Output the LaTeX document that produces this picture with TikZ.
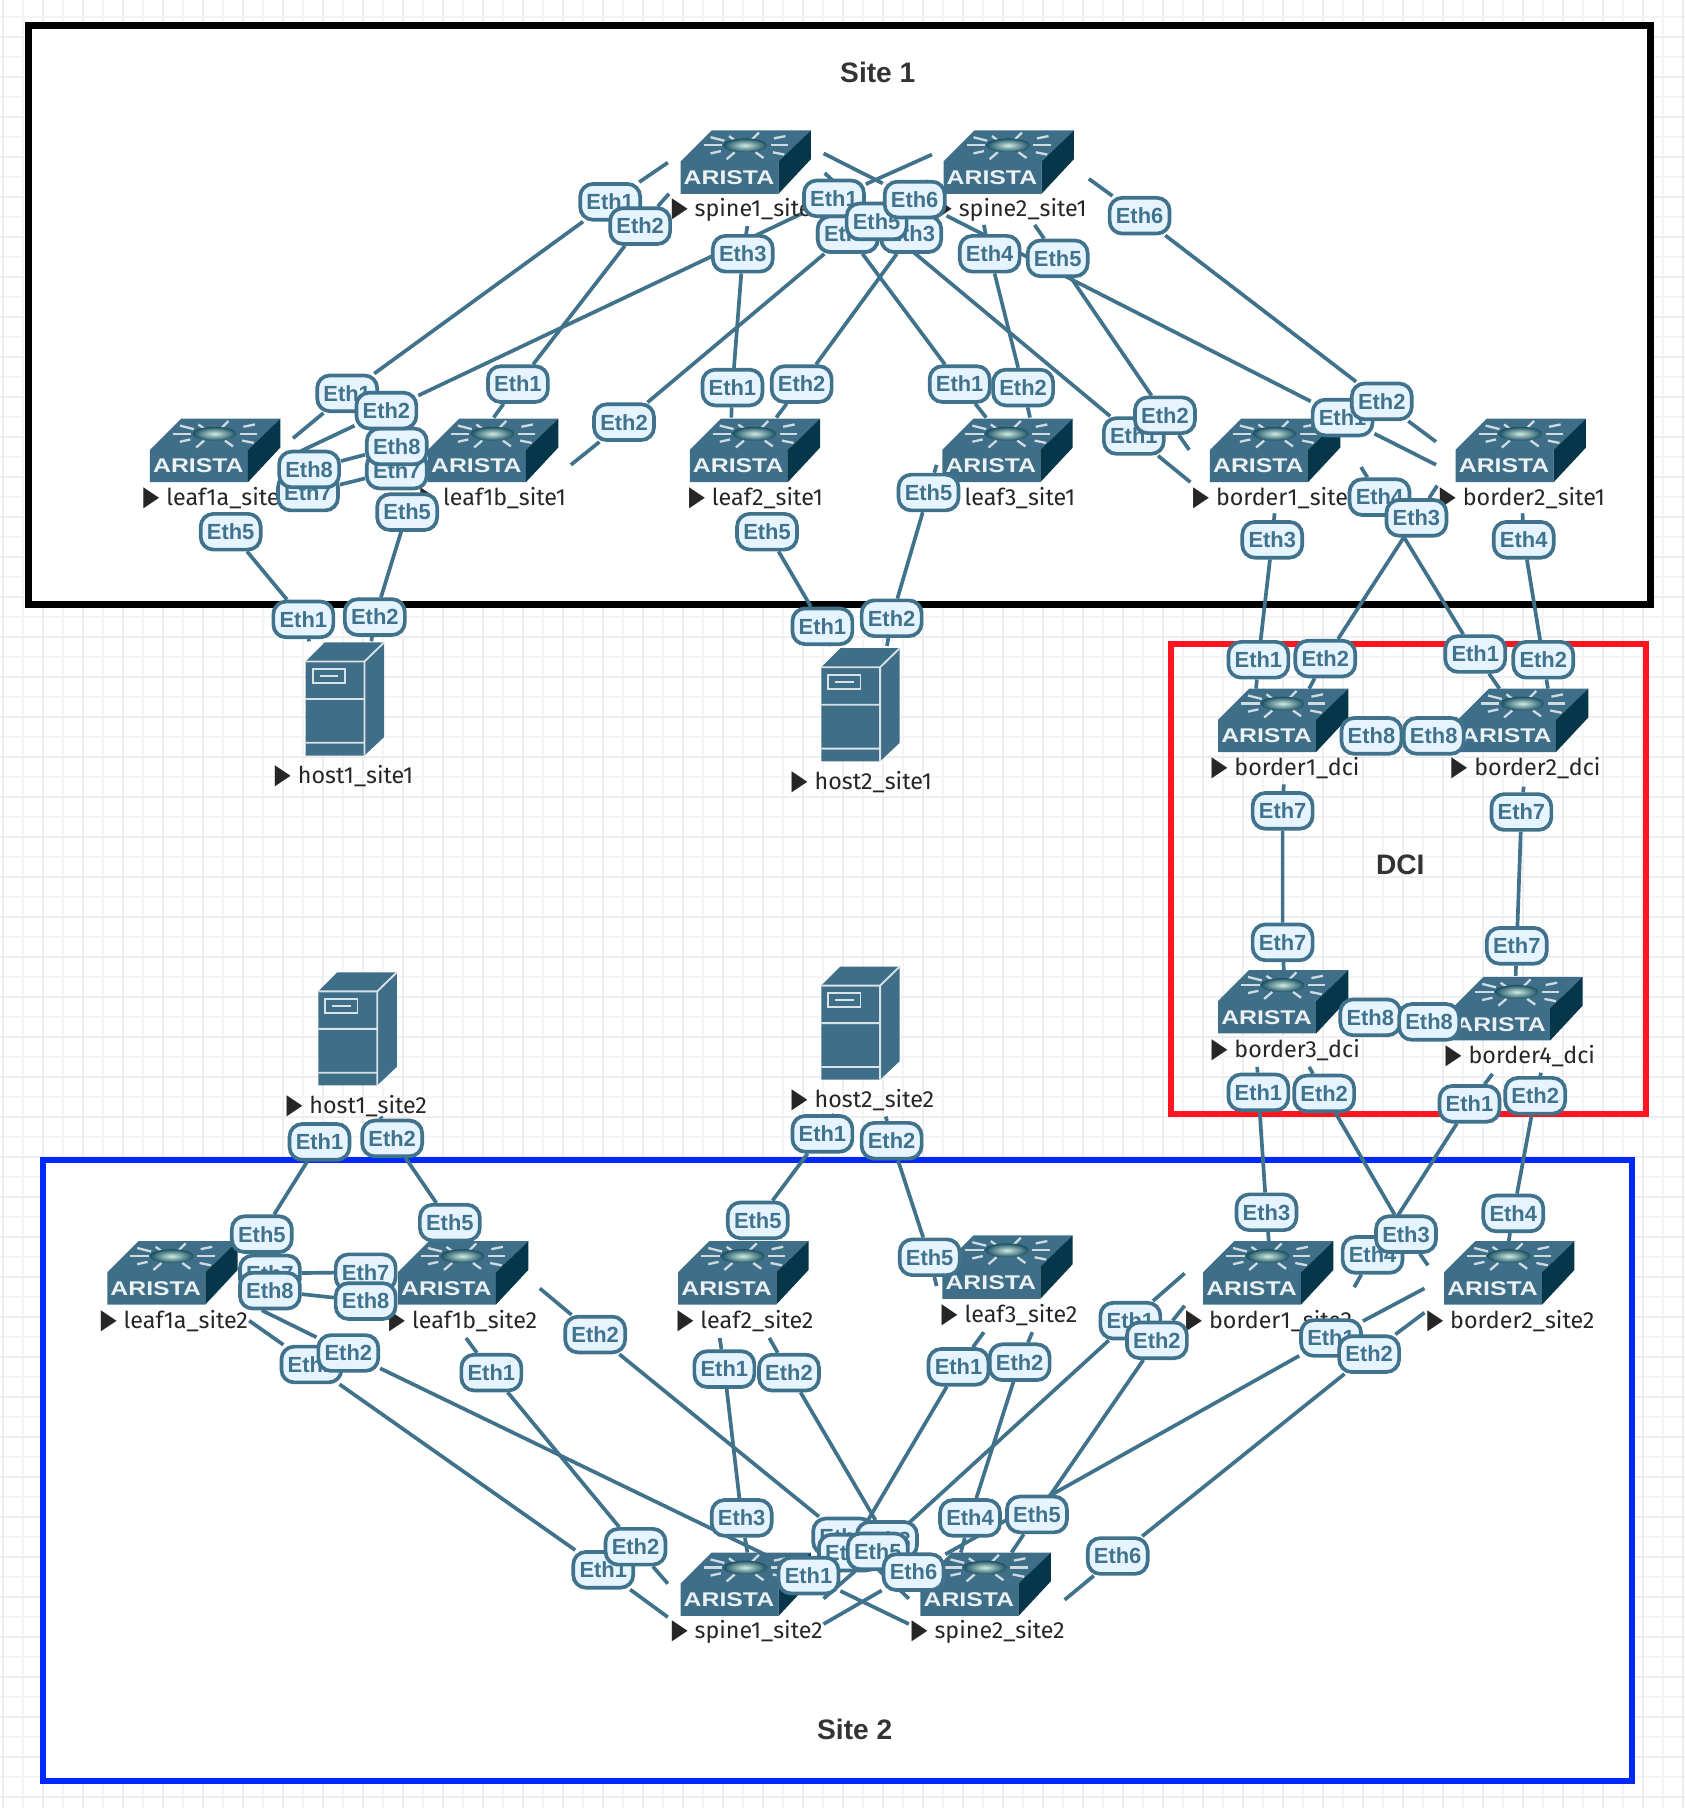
\documentclass[tikz,border=0pt]{standalone}
\usepackage{fontspec}
\usepackage{graphicx}
\setmainfont{Fira Sans}
\setsansfont{Liberation Sans}
\newfontfamily\markfont{DejaVu Sans}
\newcommand{\devmark}{{\markfont\fontsize{12}{12}\selectfont\scalebox{0.75}[1]{▶}}\hspace{3pt}}
\definecolor{linkblue}{HTML}{41728C}
\definecolor{labelfill}{HTML}{E6F4FF}
\definecolor{iconblue}{HTML}{3F6F88}
\definecolor{iconside}{HTML}{06364A}
\definecolor{ballcore}{HTML}{D0ECE2}
\definecolor{ballrim}{HTML}{1A5062}
\definecolor{gridminor}{HTML}{F5F5F7}
\definecolor{gridmajor}{HTML}{EEEEF0}
\definecolor{framered}{HTML}{FF1420}
\definecolor{frameblue}{HTML}{0028FF}
\pgfdeclarelayer{ground}
\pgfdeclarelayer{devices}
\pgfdeclarelayer{labels}
\pgfsetlayers{ground,main,devices,labels}
\tikzset{
	aristaswitch/.pic={
		\fill[iconblue] (0,27) -- (27,0) -- (113,0) -- (85,27) -- (85,55) -- (0,55) -- cycle;
		\fill[iconside] (85,27) -- (113,0) -- (113,25) -- (85,55) -- cycle;
		\foreach \xa/\ya/\xb/\yb in {20/13/36/13,26/6/38/9,26/20/35/18,78/13/93/13,81/7/91/5,80/19/90/21,42/5/49/10,68/2/61/9,47/19/40/25,65/19/72/24}
			\draw[white!75!iconblue,line width=1pt] (\xa,\ya) -- (\xb,\yb);
		\shade[inner color=ballcore,outer color=ballrim] (56,13) ellipse (19 and 6);
		\node[text=white!90!iconblue,font=\sffamily\bfseries\fontsize{8.6}{8.6}\selectfont,inner sep=0pt] (-brand) at (42,41) {\scalebox{1.25}[1]{ARISTA}};
	},
	hostbox/.pic={
		\fill[iconblue] (0,16.5) -- (16.5,0) -- (68,0) -- (68,82) -- (51,98) -- (0,98) -- cycle;
		\draw[white!80!iconblue,line width=0.8pt] (0,16.5) -- (51,16.5) -- (68,0) (51,16.5) -- (51,98) (0,49) -- (51,49) (0,87) -- (51,87);
		\draw[white!80!iconblue,line width=0.8pt] (6,23) rectangle (34,35) (12,29) -- (28,29);
	}
}
\begin{document}
\begin{tikzpicture}
		[x=0.5pt,y=-0.5pt,
		 link/.style= {draw=linkblue,line width=1.6pt},
		 ethlabel/.style= {draw=linkblue,fill=labelfill,text=linkblue,line width=1.6pt,rounded corners=5.5pt,
			minimum width=26pt,minimum height=15.5pt,inner sep=0pt,font=\sffamily\bfseries\fontsize{9.5}{9.5}\selectfont},
		 devlabel/.style= {anchor=west,inner sep=0pt,text=black!85,font=\fontsize{10.1}{10.1}\selectfont},
		 frametitle/.style= {text=black!80,font=\sffamily\bfseries\fontsize{12.2}{12.2}\selectfont}]

		\useasboundingbox (0,0) rectangle (1460,1567.5);

		\begin{pgfonlayer}{ground}
		\fill[white] (0,0) rectangle (1460,1567.5);
		\begin{scope}[shift={(2.9,-2.9)}]
			\draw[gridminor,line width=0.85pt,step=8.67pt] (-3,-3) grid (1458,1571);
			\draw[gridmajor,line width=0.85pt,step=17.34pt] (-3,-3) grid (1458,1571);
		\end{scope}
		\draw[black,fill=white,line width=3pt] (25,22) rectangle (1431,524);
		\draw[framered,line width=2.5pt] (1015,558) rectangle (1427,966);
		\draw[frameblue,fill=white,line width=2.5pt] (37,1006) rectangle (1415,1544);
		\node[frametitle] (site1title) at (761,63) {Site 1};
		\node[frametitle] (dcititle) at (1214,750) {DCI};
		\node[frametitle] (site2title) at (741,1499) {Site 2};
		\end{pgfonlayer}

		\begin{pgfonlayer}{devices}
		% site 1
		\pic (aspine1) at (590,113) {aristaswitch};
		\pic (aspine2) at (818,113) {aristaswitch};
		\pic (aleaf1a) at (130,363) {aristaswitch};
		\pic (aleaf1b) at (371,363) {aristaswitch};
		\pic (aleaf2) at (598,363) {aristaswitch};
		\pic (aleaf3) at (817,363) {aristaswitch};
		\pic (aborder1) at (1049,363) {aristaswitch};
		\pic (aborder2) at (1262,363) {aristaswitch};
		\pic (ahost1) at (265,557) {hostbox};
		\pic (ahost2) at (712,562) {hostbox};
		\node[devlabel] (aspine1name) at (582,182) {\devmark spine1\_site1};
		\node[devlabel] (aspine2name) at (811,182) {\devmark spine2\_site1};
		\node[devlabel] (aleaf1aname) at (124,432) {\devmark leaf1a\_site1};
		\node[devlabel] (aleaf1bname) at (364,432) {\devmark leaf1b\_site1};
		\node[devlabel] (aleaf2name) at (597,432) {\devmark leaf2\_site1};
		\node[devlabel] (aleaf3name) at (816,432) {\devmark leaf3\_site1};
		\node[devlabel] (aborder1name) at (1034,432) {\devmark border1\_site1};
		\node[devlabel] (aborder2name) at (1248,432) {\devmark border2\_site1};
		\node[devlabel] (ahost1name) at (238,673) {\devmark host1\_site1};
		\node[devlabel] (ahost2name) at (686,678) {\devmark host2\_site1};
		% dci
		\pic (dborder1) at (1056,597) {aristaswitch};
		\pic (dborder2) at (1264,597) {aristaswitch};
		\pic (dborder3) at (1056,841) {aristaswitch};
		\pic (dborder4) at (1259,847) {aristaswitch};
		\node[devlabel] (dborder1name) at (1050,666) {\devmark border1\_dci};
		\node[devlabel] (dborder2name) at (1258,666) {\devmark border2\_dci};
		\node[devlabel] (dborder3name) at (1050,910) {\devmark border3\_dci};
		\node[devlabel] (dborder4name) at (1253,916) {\devmark border4\_dci};
		% site 2
		\pic (bspine1) at (590,1346) {aristaswitch};
		\pic (bspine2) at (798,1346) {aristaswitch};
		\pic (bleaf1a) at (93,1076) {aristaswitch};
		\pic (bleaf1b) at (345,1076) {aristaswitch};
		\pic (bleaf2) at (588,1076) {aristaswitch};
		\pic (bleaf3) at (817,1071) {aristaswitch};
		\pic (bborder1) at (1043,1076) {aristaswitch};
		\pic (bborder2) at (1252,1076) {aristaswitch};
		\pic (bhost1) at (276,843) {hostbox};
		\pic (bhost2) at (712,838) {hostbox};
		\node[devlabel] (bspine1name) at (582,1415) {\devmark spine1\_site2};
		\node[devlabel] (bspine2name) at (790,1415) {\devmark spine2\_site2};
		\node[devlabel] (bleaf1aname) at (87,1145) {\devmark leaf1a\_site2};
		\node[devlabel] (bleaf1bname) at (337,1145) {\devmark leaf1b\_site2};
		\node[devlabel] (bleaf2name) at (587,1145) {\devmark leaf2\_site2};
		\node[devlabel] (bleaf3name) at (816,1140) {\devmark leaf3\_site2};
		\node[devlabel] (bborder1name) at (1028,1145) {\devmark border1\_site2};
		\node[devlabel] (bborder2name) at (1237,1145) {\devmark border2\_site2};
		\node[devlabel] (bhost1name) at (248,959) {\devmark host1\_site2};
		\node[devlabel] (bhost2name) at (686,954) {\devmark host2\_site2};
		\end{pgfonlayer}

		\begin{pgfonlayer}{labels}
		% site 1, later nodes lie on top
		\node[ethlabel] (aleaf1ae7) at (267,427) {Eth7};
		\node[ethlabel] (aleaf1ae8) at (268,407) {Eth8};
		\node[ethlabel] (aleaf1be7) at (344,408) {Eth7};
		\node[ethlabel] (aleaf1be8) at (344,387) {Eth8};
		\node[ethlabel] (aleaf1ae1) at (301,341) {Eth1};
		\node[ethlabel] (aleaf1ae2) at (335,356) {Eth2};
		\node[ethlabel] (aleaf1ae5) at (200,461) {Eth5};
		\node[ethlabel] (aleaf1be5) at (353,444) {Eth5};
		\node[ethlabel] (aleaf1be1) at (449,333) {Eth1};
		\node[ethlabel] (aleaf1be2) at (541,366) {Eth2};
		\node[ethlabel] (aleaf2e1) at (635,336) {Eth1};
		\node[ethlabel] (aleaf2e2) at (695,333) {Eth2};
		\node[ethlabel] (aleaf2e5) at (665,461) {Eth5};
		\node[ethlabel] (aleaf3e1) at (832,333) {Eth1};
		\node[ethlabel] (aleaf3e2) at (887,336) {Eth2};
		\node[ethlabel] (aleaf3e5) at (805,427) {Eth5};
		\node[ethlabel] (aspine1e1) at (529,175) {Eth1};
		\node[ethlabel] (aspine1e2) at (555,196) {Eth2};
		\node[ethlabel] (aspine1e3) at (644,220) {Eth3};
		\node[ethlabel] (aspine1e4) at (735,203) {Eth4};
		\node[ethlabel] (aspine2e2) at (735,203) {Eth2};
		\node[ethlabel] (aspine2e3) at (790,203) {Eth3};
		\node[ethlabel] (aspine2e1) at (723,172) {Eth1};
		\node[ethlabel] (aspine1e5) at (760,192) {Eth5};
		\node[ethlabel] (aspine1e6) at (793,173) {Eth6};
		\node[ethlabel] (aspine2e4) at (858,220) {Eth4};
		\node[ethlabel] (aspine2e5) at (917,224) {Eth5};
		\node[ethlabel] (aspine2e6) at (988,187) {Eth6};
		\node[ethlabel] (aborder1e1) at (983,378) {Eth1};
		\node[ethlabel] (aborder1e2) at (1010,360) {Eth2};
		\node[ethlabel] (aborder2e1) at (1164,362) {Eth1};
		\node[ethlabel] (aborder2e2) at (1198,348) {Eth2};
		\node[ethlabel] (aborder1e3) at (1103,468) {Eth3};
		\node[ethlabel] (aborder1e4) at (1196,431) {Eth4};
		\node[ethlabel] (aborder2e3) at (1228,449) {Eth3};
		\node[ethlabel] (aborder2e4) at (1321,468) {Eth4};
		\node[ethlabel] (ahost1e1) at (263,537) {Eth1};
		\node[ethlabel] (ahost1e2) at (325,535) {Eth2};
		\node[ethlabel] (ahost2e1) at (713,543) {Eth1};
		\node[ethlabel] (ahost2e2) at (773,536) {Eth2};
		% dci
		\node[ethlabel] (dborder1e1) at (1091,572) {Eth1};
		\node[ethlabel] (dborder1e2) at (1149,571) {Eth2};
		\node[ethlabel] (dborder2e1) at (1279,567) {Eth1};
		\node[ethlabel] (dborder2e2) at (1338,572) {Eth2};
		\node[ethlabel] (dborder1e8) at (1189,638) {Eth8};
		\node[ethlabel] (dborder2e8) at (1243,638) {Eth8};
		\node[ethlabel] (dborder1e7) at (1112,703) {Eth7};
		\node[ethlabel] (dborder2e7) at (1319,704) {Eth7};
		\node[ethlabel] (dborder3e7) at (1112,817) {Eth7};
		\node[ethlabel] (dborder4e7) at (1315,820) {Eth7};
		\node[ethlabel] (dborder3e8) at (1188,882) {Eth8};
		\node[ethlabel] (dborder4e8) at (1239,886) {Eth8};
		\node[ethlabel] (dborder3e1) at (1091,947) {Eth1};
		\node[ethlabel] (dborder3e2) at (1148,948) {Eth2};
		\node[ethlabel] (dborder4e1) at (1274,957) {Eth1};
		\node[ethlabel] (dborder4e2) at (1331,950) {Eth2};
		% site 2
		\node[ethlabel] (bhost1e1) at (277,990) {Eth1};
		\node[ethlabel] (bhost1e2) at (340,987) {Eth2};
		\node[ethlabel] (bhost2e1) at (713,983) {Eth1};
		\node[ethlabel] (bhost2e2) at (773,989) {Eth2};
		\node[ethlabel] (bleaf1ae7) at (234,1104) {Eth7};
		\node[ethlabel] (bleaf1ae8) at (234,1119) {Eth8};
		\node[ethlabel] (bleaf1ae5) at (227,1070) {Eth5};
		\node[ethlabel] (bleaf1be7) at (317,1103) {Eth7};
		\node[ethlabel] (bleaf1be8) at (317,1128) {Eth8};
		\node[ethlabel] (bleaf1be5) at (390,1060) {Eth5};
		\node[ethlabel] (bleaf2e5) at (657,1058) {Eth5};
		\node[ethlabel] (bleaf3e5) at (806,1090) {Eth5};
		\node[ethlabel] (bborder1e3) at (1098,1051) {Eth3};
		\node[ethlabel] (bborder1e4) at (1190,1088) {Eth4};
		\node[ethlabel] (bborder2e3) at (1219,1070) {Eth3};
		\node[ethlabel] (bborder2e4) at (1312,1052) {Eth4};
		\node[ethlabel] (bleaf1ae1) at (270,1183) {Eth1};
		\node[ethlabel] (bleaf1ae2) at (302,1173) {Eth2};
		\node[ethlabel] (bleaf1be1) at (426,1190) {Eth1};
		\node[ethlabel] (bleaf1be2) at (516,1157) {Eth2};
		\node[ethlabel] (bleaf2e1) at (628,1187) {Eth1};
		\node[ethlabel] (bleaf2e2) at (684,1190) {Eth2};
		\node[ethlabel] (bleaf3e1) at (831,1185) {Eth1};
		\node[ethlabel] (bleaf3e2) at (884,1181) {Eth2};
		\node[ethlabel] (bborder1e1) at (980,1145) {Eth1};
		\node[ethlabel] (bborder1e2) at (1003,1162) {Eth2};
		\node[ethlabel] (bborder2e1) at (1154,1160) {Eth1};
		\node[ethlabel] (bborder2e2) at (1187,1174) {Eth2};
		\node[ethlabel] (bspine1e1) at (523,1361) {Eth1};
		\node[ethlabel] (bspine1e2) at (551,1341) {Eth2};
		\node[ethlabel] (bspine1e3) at (643,1316) {Eth3};
		\node[ethlabel] (bspine2e2) at (731,1332) {Eth2};
		\node[ethlabel] (bspine2e3) at (769,1335) {Eth3};
		\node[ethlabel] (bspine1e4) at (736,1346) {Eth4};
		\node[ethlabel] (bspine1e5) at (761,1345) {Eth5};
		\node[ethlabel] (bspine2e1) at (701,1366) {Eth1};
		\node[ethlabel] (bspine1e6) at (792,1363) {Eth6};
		\node[ethlabel] (bspine2e4) at (841,1316) {Eth4};
		\node[ethlabel] (bspine2e5) at (899,1313) {Eth5};
		\node[ethlabel] (bspine2e6) at (969,1349) {Eth6};
		\end{pgfonlayer}

		% free ends of the links
		\coordinate (a1s) at (579,141); \coordinate (a1t) at (254,380);
		\coordinate (a2s) at (580,168); \coordinate (a2t) at (428,362);
		\coordinate (a3s) at (648,196); \coordinate (a3t) at (634,362);
		\coordinate (a4s) at (720,183); \coordinate (a4t) at (855,362);
		\coordinate (a5s) at (715,150); \coordinate (a5t) at (1032,418);
		\coordinate (a6s) at (714,133); \coordinate (a6t) at (1245,403);
		\coordinate (a7s) at (808,134); \coordinate (a7t) at (261,391);
		\coordinate (a8s) at (805,157); \coordinate (a8t) at (495,403);
		\coordinate (a9s) at (808,178); \coordinate (a9t) at (673,362);
		\coordinate (a10s) at (853,195); \coordinate (a10t) at (893,362);
		\coordinate (a11s) at (897,195); \coordinate (a11t) at (1031,390);
		\coordinate (a12s) at (944,155); \coordinate (a12t) at (1245,383);
		\coordinate (a13t) at (268,556);
		\coordinate (a14t) at (322,556);
		\coordinate (a15t) at (720,560);
		\coordinate (a16s) at (812,403); \coordinate (a16t) at (769,560);
		\coordinate (a17s) at (1105,445); \coordinate (a17t) at (1089,597);
		\coordinate (a18s) at (1180,405); \coordinate (a18t) at (1300,597);
		\coordinate (a19s) at (1246,421); \coordinate (a19t) at (1135,597);
		\coordinate (a20s) at (1320,445); \coordinate (a20t) at (1342,597);
		\coordinate (d1s) at (1113,680); \coordinate (d1t) at (1113,841);
		\coordinate (d2s) at (1321,682); \coordinate (d2t) at (1314,846);
		\coordinate (d3s) at (1090,925); \coordinate (d3t) at (1100,1076);
		\coordinate (d4s) at (1135,925); \coordinate (d4t) at (1238,1097);
		\coordinate (d5s) at (1294,931); \coordinate (d5t) at (1174,1116);
		\coordinate (d6s) at (1336,930); \coordinate (d6t) at (1308,1076);
		\coordinate (b1s) at (283,975);
		\coordinate (b2s) at (330,968);
		\coordinate (b3s) at (722,968);
		\coordinate (b4s) at (768,968); \coordinate (b4t) at (812,1115);
		\coordinate (b5s) at (216,1145); \coordinate (b5t) at (579,1402);
		\coordinate (b6s) at (227,1136); \coordinate (b6t) at (788,1408);
		\coordinate (b7s) at (404,1160); \coordinate (b7t) at (579,1373);
		\coordinate (b8s) at (468,1117); \coordinate (b8t) at (788,1386);
		\coordinate (b9s) at (624,1160); \coordinate (b9t) at (648,1346);
		\coordinate (b10s) at (667,1160); \coordinate (b10t) at (778,1350);
		\coordinate (b11s) at (853,1155); \coordinate (b11t) at (712,1370);
		\coordinate (b12s) at (895,1155); \coordinate (b12t) at (833,1346);
		\coordinate (b13s) at (1027,1104); \coordinate (b13t) at (714,1386);
		\coordinate (b14s) at (1027,1132); \coordinate (b14t) at (877,1346);
		\coordinate (b15s) at (1235,1117); \coordinate (b15t) at (714,1408);
		\coordinate (b16s) at (1235,1138); \coordinate (b16t) at (923,1387);

		% site 1 links
		\draw[link] (a1s) -- (aspine1e1) -- (aleaf1ae1) -- (a1t);
		\draw[link] (a2s) -- (aspine1e2) -- (aleaf1be1) -- (a2t);
		\draw[link] (a3s) -- (aspine1e3) -- (aleaf2e1) -- (a3t);
		\draw[link] (a4s) -- (aspine1e4) -- (aleaf3e1) -- (a4t);
		\draw[link] (a5s) -- (aspine1e5) -- (aborder1e1) -- (a5t);
		\draw[link] (a6s) -- (aspine1e6) -- (aborder2e1) -- (a6t);
		\draw[link] (a7s) -- (aspine2e1) -- (aleaf1ae2) -- (a7t);
		\draw[link] (a8s) -- (aspine2e2) -- (aleaf1be2) -- (a8t);
		\draw[link] (a9s) -- (aspine2e3) -- (aleaf2e2) -- (a9t);
		\draw[link] (a10s) -- (aspine2e4) -- (aleaf3e2) -- (a10t);
		\draw[link] (a11s) -- (aspine2e5) -- (aborder1e2) -- (a11t);
		\draw[link] (a12s) -- (aspine2e6) -- (aborder2e2) -- (a12t);
		\draw[link] (aleaf1ae5) -- (ahost1e1) -- (a13t);
		\draw[link] (aleaf1be5) -- (ahost1e2) -- (a14t);
		\draw[link] (aleaf2e5) -- (ahost2e1) -- (a15t);
		\draw[link] (a16s) -- (aleaf3e5) -- (ahost2e2) -- (a16t);
		\draw[link] (aleaf1ae7) -- (aleaf1be7);
		\draw[link] (aleaf1ae8) -- (aleaf1be8);
		\draw[link] (a17s) -- (aborder1e3) -- (dborder1e1) -- (a17t);
		\draw[link] (a18s) -- (aborder1e4) -- (dborder2e1) -- (a18t);
		\draw[link] (a19s) -- (aborder2e3) -- (dborder1e2) -- (a19t);
		\draw[link] (a20s) -- (aborder2e4) -- (dborder2e2) -- (a20t);
		% dci links
		\draw[link] (d1s) -- (dborder1e7) -- (dborder3e7) -- (d1t);
		\draw[link] (d2s) -- (dborder2e7) -- (dborder4e7) -- (d2t);
		\draw[link] (dborder1e8) -- (dborder2e8);
		\draw[link] (dborder3e8) -- (dborder4e8);
		\draw[link] (d3s) -- (dborder3e1) -- (bborder1e3) -- (d3t);
		\draw[link] (d4s) -- (dborder3e2) -- (bborder2e3) -- (d4t);
		\draw[link] (d5s) -- (dborder4e1) -- (bborder1e4) -- (d5t);
		\draw[link] (d6s) -- (dborder4e2) -- (bborder2e4) -- (d6t);
		% site 2 links
		\draw[link] (b1s) -- (bhost1e1) -- (bleaf1ae5);
		\draw[link] (b2s) -- (bhost1e2) -- (bleaf1be5);
		\draw[link] (b3s) -- (bhost2e1) -- (bleaf2e5);
		\draw[link] (b4s) -- (bhost2e2) -- (bleaf3e5) -- (b4t);
		\draw[link] (bleaf1ae7) -- (bleaf1be7);
		\draw[link] (bleaf1ae8) -- (bleaf1be8);
		\draw[link] (b5s) -- (bleaf1ae1) -- (bspine1e1) -- (b5t);
		\draw[link] (b6s) -- (bleaf1ae2) -- (bspine2e1) -- (b6t);
		\draw[link] (b7s) -- (bleaf1be1) -- (bspine1e2) -- (b7t);
		\draw[link] (b8s) -- (bleaf1be2) -- (bspine2e2) -- (b8t);
		\draw[link] (b9s) -- (bleaf2e1) -- (bspine1e3) -- (b9t);
		\draw[link] (b10s) -- (bleaf2e2) -- (bspine2e3) -- (b10t);
		\draw[link] (b11s) -- (bleaf3e1) -- (bspine1e4) -- (b11t);
		\draw[link] (b12s) -- (bleaf3e2) -- (bspine2e4) -- (b12t);
		\draw[link] (b13s) -- (bborder1e1) -- (bspine1e5) -- (b13t);
		\draw[link] (b14s) -- (bborder1e2) -- (bspine2e5) -- (b14t);
		\draw[link] (b15s) -- (bborder2e1) -- (bspine1e6) -- (b15t);
		\draw[link] (b16s) -- (bborder2e2) -- (bspine2e6) -- (b16t);
\end{tikzpicture}
\end{document}
